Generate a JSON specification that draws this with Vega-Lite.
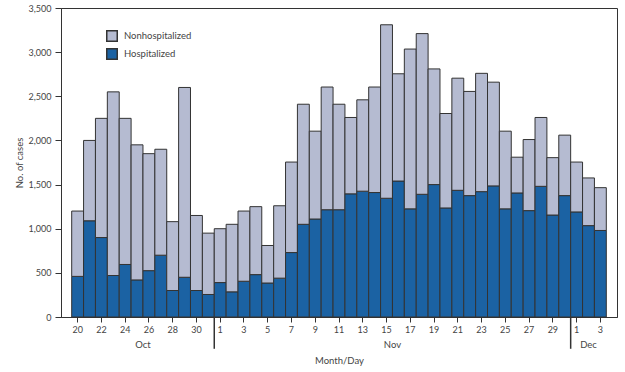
{
  "$schema": "https://vega.github.io/schema/vega-lite/v6.json",
  "autosize": {"type": "none"},
  "padding": {"left": 61, "top": 8, "right": 8, "bottom": 55},
  "width": 556,
  "height": 309,
  "background": "white",
  "config": {
    "font": "Lato",
    "view": {"stroke": "#333333", "strokeWidth": 1},
    "axis": {"labelFont": "Lato", "titleFont": "Lato", "labelColor": "#444444", "titleColor": "#444444", "domainColor": "#333333", "tickColor": "#333333", "labelFontSize": 9, "titleFontSize": 9.5, "titleFontWeight": "normal", "grid": false},
    "legend": {"labelFont": "Lato", "labelColor": "#444444", "labelFontSize": 9.5}
  },
  "datasets": {
    "cases": [
      {"day": "Oct 20", "Hospitalized": 460, "Nonhospitalized": 740},
      {"day": "Oct 21", "Hospitalized": 1090, "Nonhospitalized": 910},
      {"day": "Oct 22", "Hospitalized": 900, "Nonhospitalized": 1350},
      {"day": "Oct 23", "Hospitalized": 470, "Nonhospitalized": 2080},
      {"day": "Oct 24", "Hospitalized": 595, "Nonhospitalized": 1655},
      {"day": "Oct 25", "Hospitalized": 420, "Nonhospitalized": 1530},
      {"day": "Oct 26", "Hospitalized": 525, "Nonhospitalized": 1325},
      {"day": "Oct 27", "Hospitalized": 700, "Nonhospitalized": 1200},
      {"day": "Oct 28", "Hospitalized": 300, "Nonhospitalized": 780},
      {"day": "Oct 29", "Hospitalized": 450, "Nonhospitalized": 2150},
      {"day": "Oct 30", "Hospitalized": 300, "Nonhospitalized": 850},
      {"day": "Oct 31", "Hospitalized": 255, "Nonhospitalized": 695},
      {"day": "Nov 1", "Hospitalized": 390, "Nonhospitalized": 610},
      {"day": "Nov 2", "Hospitalized": 285, "Nonhospitalized": 765},
      {"day": "Nov 3", "Hospitalized": 405, "Nonhospitalized": 795},
      {"day": "Nov 4", "Hospitalized": 480, "Nonhospitalized": 770},
      {"day": "Nov 5", "Hospitalized": 385, "Nonhospitalized": 425},
      {"day": "Nov 6", "Hospitalized": 440, "Nonhospitalized": 820},
      {"day": "Nov 7", "Hospitalized": 730, "Nonhospitalized": 1025},
      {"day": "Nov 8", "Hospitalized": 1050, "Nonhospitalized": 1360},
      {"day": "Nov 9", "Hospitalized": 1110, "Nonhospitalized": 995},
      {"day": "Nov 10", "Hospitalized": 1215, "Nonhospitalized": 1390},
      {"day": "Nov 11", "Hospitalized": 1215, "Nonhospitalized": 1195},
      {"day": "Nov 12", "Hospitalized": 1395, "Nonhospitalized": 865},
      {"day": "Nov 13", "Hospitalized": 1425, "Nonhospitalized": 1035},
      {"day": "Nov 14", "Hospitalized": 1410, "Nonhospitalized": 1195},
      {"day": "Nov 15", "Hospitalized": 1345, "Nonhospitalized": 1965},
      {"day": "Nov 16", "Hospitalized": 1540, "Nonhospitalized": 1215},
      {"day": "Nov 17", "Hospitalized": 1225, "Nonhospitalized": 1810},
      {"day": "Nov 18", "Hospitalized": 1390, "Nonhospitalized": 1820},
      {"day": "Nov 19", "Hospitalized": 1500, "Nonhospitalized": 1310},
      {"day": "Nov 20", "Hospitalized": 1235, "Nonhospitalized": 1070},
      {"day": "Nov 21", "Hospitalized": 1435, "Nonhospitalized": 1270},
      {"day": "Nov 22", "Hospitalized": 1375, "Nonhospitalized": 1180},
      {"day": "Nov 23", "Hospitalized": 1420, "Nonhospitalized": 1340},
      {"day": "Nov 24", "Hospitalized": 1485, "Nonhospitalized": 1175},
      {"day": "Nov 25", "Hospitalized": 1225, "Nonhospitalized": 880},
      {"day": "Nov 26", "Hospitalized": 1405, "Nonhospitalized": 405},
      {"day": "Nov 27", "Hospitalized": 1205, "Nonhospitalized": 805},
      {"day": "Nov 28", "Hospitalized": 1480, "Nonhospitalized": 780},
      {"day": "Nov 29", "Hospitalized": 1155, "Nonhospitalized": 650},
      {"day": "Nov 30", "Hospitalized": 1375, "Nonhospitalized": 685},
      {"day": "Dec 1", "Hospitalized": 1190, "Nonhospitalized": 565},
      {"day": "Dec 2", "Hospitalized": 1035, "Nonhospitalized": 540},
      {"day": "Dec 3", "Hospitalized": 980, "Nonhospitalized": 485}
    ],
    "separators": [{"day": "Nov 1"}, {"day": "Dec 1"}],
    "monthsAtEdge": [{"day": "Oct 26", "month": "Oct"}, {"day": "Nov 16", "month": "Nov"}],
    "monthsCentered": [{"day": "Dec 2", "month": "Dec"}]
  },
  "layer": [
    {
      "data": {"name": "cases"},
      "transform": [{"fold": ["Hospitalized", "Nonhospitalized"], "as": ["status", "cases"]}],
      "mark": {"type": "bar", "stroke": "#333333", "strokeWidth": 1},
      "encoding": {
        "x": {
          "field": "day", "type": "ordinal", "sort": null,
          "scale": {"paddingInner": 0, "paddingOuter": 0.9},
          "axis": {
            "title": "Month/Day", "titlePadding": 21, "labelAngle": 0, "tickSize": 5, "labelPadding": 3,
            "values": ["Oct 20", "Oct 22", "Oct 24", "Oct 26", "Oct 28", "Oct 30", "Nov 1", "Nov 3", "Nov 5", "Nov 7", "Nov 9", "Nov 11", "Nov 13", "Nov 15", "Nov 17", "Nov 19", "Nov 21", "Nov 23", "Nov 25", "Nov 27", "Nov 29", "Dec 1", "Dec 3"],
            "labelExpr": "split(datum.value, ' ')[1]"
          }
        },
        "y": {
          "field": "cases", "type": "quantitative", "stack": "zero",
          "scale": {"domain": [0, 3500], "nice": false},
          "axis": {"title": "No. of cases", "format": ",d", "labelOverlap": false, "values": [0, 500, 1000, 1500, 2000, 2500, 3000, 3500], "tickSize": 6, "labelPadding": 4, "titlePadding": 4}
        },
        "color": {
          "field": "status", "type": "nominal",
          "scale": {"domain": ["Nonhospitalized", "Hospitalized"], "range": ["#b5bbd1", "#1b62a3"]},
          "legend": {"title": null, "orient": "none", "legendX": 45, "legendY": 22, "symbolType": "square", "symbolSize": 110, "symbolStrokeColor": "#333333", "symbolStrokeWidth": 1.5, "rowPadding": 0, "labelOffset": 6}
        },
        "order": {"field": "status", "sort": "ascending"}
      }
    },
    {
      "data": {"name": "separators"},
      "mark": {"type": "rule", "stroke": "#333333", "strokeWidth": 1.5, "clip": false},
      "encoding": {
        "x": {"field": "day", "type": "ordinal", "sort": null, "bandPosition": 0},
        "y": {"datum": 0, "type": "quantitative"},
        "y2": {"datum": -360}
      }
    },
    {
      "data": {"name": "monthsAtEdge"},
      "mark": {"type": "text", "fontSize": 9.5, "color": "#444444", "baseline": "middle", "align": "center"},
      "encoding": {
        "x": {"field": "day", "type": "ordinal", "sort": null, "bandPosition": 0},
        "y": {"datum": -312, "type": "quantitative"},
        "text": {"field": "month"}
      }
    },
    {
      "data": {"name": "monthsCentered"},
      "mark": {"type": "text", "fontSize": 9.5, "color": "#444444", "baseline": "middle", "align": "center"},
      "encoding": {
        "x": {"field": "day", "type": "ordinal", "sort": null, "bandPosition": 0.5},
        "y": {"datum": -312, "type": "quantitative"},
        "text": {"field": "month"}
      }
    }
  ]
}
